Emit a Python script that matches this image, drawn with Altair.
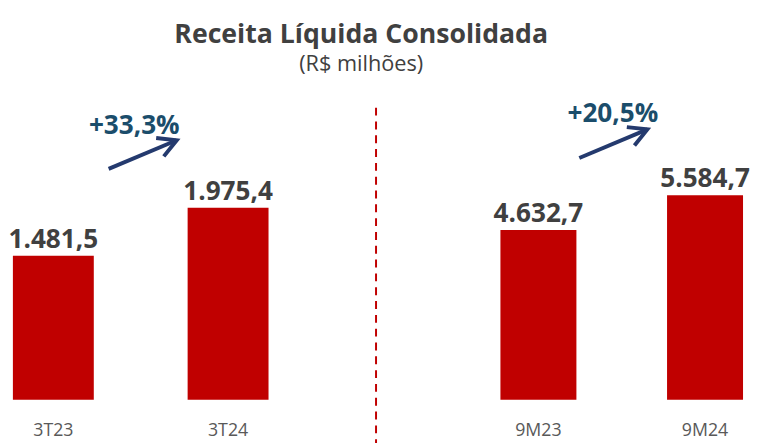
import altair as alt
import pandas as pd

# ---- data ----
left_periods = ["3T23", "3T24"]
left_values = [1481.5, 1975.4]
left_labels = ["1.481,5", "1.975,4"]
right_periods = ["9M23", "9M24"]
right_values = [4632.7, 5584.7]
right_labels = ["4.632,7", "5.584,7"]
growth_left = "+33,3%"
growth_right = "+20,5%"

title = "Receita Líquida Consolidada"
subtitle = "(R$ milhões)"

RED = "#C00000"
GRAY = "#404040"
TEAL = "#1B4D6B"
NAVY = "#243A6E"
FONT = "Open Sans"

H = 308


def panel(periods, values, labels, domain_max, pad_inner, pad_outer):
    df = pd.DataFrame({"period": periods, "value": values, "label": labels})
    x = alt.X("period:N", sort=periods,
              scale=alt.Scale(paddingInner=pad_inner, paddingOuter=pad_outer),
              axis=alt.Axis(title=None, labelAngle=0, domain=False, ticks=False,
                            labelPadding=22, labelFontSize=18, labelColor="#595959",
                            labelFont=FONT, grid=False))
    y = alt.Y("value:Q", scale=alt.Scale(domain=[0, domain_max], nice=False),
              axis=None)
    base = alt.Chart(df).encode(x=x, y=y)
    bars = base.mark_bar(color=RED)
    text = base.mark_text(dy=-8, baseline="alphabetic", fontSize=26.5,
                          fontWeight="bold", color=GRAY, font=FONT).encode(text="label:N")
    return bars, text


def arrow(x1, y1, x2, y2, ang, df):
    line = alt.Chart(df).mark_rule(color=NAVY, strokeWidth=4).encode(
        x=alt.value(x1), y=alt.value(y1), x2=alt.value(x2), y2=alt.value(y2))
    head = alt.Chart(df).mark_point(
        shape="M -1 -0.55 L 0 0 L -1 0.55", filled=False, color=NAVY,
        strokeWidth=4, size=1350, angle=ang, opacity=1).encode(
        x=alt.value(x2), y=alt.value(y2))
    return line + head


one = pd.DataFrame({"k": [0]})

lb, lt = panel(left_periods, left_values, left_labels,
               H * 1481.5 / 146, 0.537, 0.028)
left_txt = alt.Chart(one).mark_text(fontSize=26.5, fontWeight="bold", color=TEAL,
                                    font=FONT).encode(
    x=alt.value(128), y=alt.value(126 - 95), text=alt.value(growth_left))
left = alt.layer(lb, lt, left_txt,
                 arrow(102, 169 - 95, 171, 140 - 95, 337.5, one)).properties(width=269, height=H)

rb, rt = panel(right_periods, right_values, right_labels,
               H * 4632.7 / 172, 0.544, 0.03)
right_txt = alt.Chart(one).mark_text(fontSize=26.5, fontWeight="bold", color=TEAL,
                                     font=FONT).encode(
    x=alt.value(617 - 498), y=alt.value(114 - 95), text=alt.value(growth_right))
dash = alt.Chart(one).mark_rule(color=RED, strokeWidth=2, strokeDash=[8, 6]).encode(
    x=alt.value(377 - 498), x2=alt.value(377 - 498), y=alt.value(105 - 93), y2=alt.value(360))
right = alt.layer(rb, rt, right_txt, dash,
                  arrow(85, 158 - 95, 154, 129 - 95, 337.5, one)).properties(width=256, height=H)

chart = alt.hconcat(left, right, spacing=225, bounds="flush").properties(
    title=alt.TitleParams(text=title, subtitle=subtitle, anchor="middle",
                          fontSize=27, fontWeight="bold", color=GRAY, font=FONT,
                          subtitleFontSize=22, subtitleColor=GRAY, subtitleFont=FONT,
                          subtitlePadding=6, offset=20, dx=-18),
    padding={"left": 0, "top": 10, "right": 0, "bottom": 0},
).configure_view(stroke=None)

chart.save("out.html", embed_options={"renderer": "svg", "actions": False})
